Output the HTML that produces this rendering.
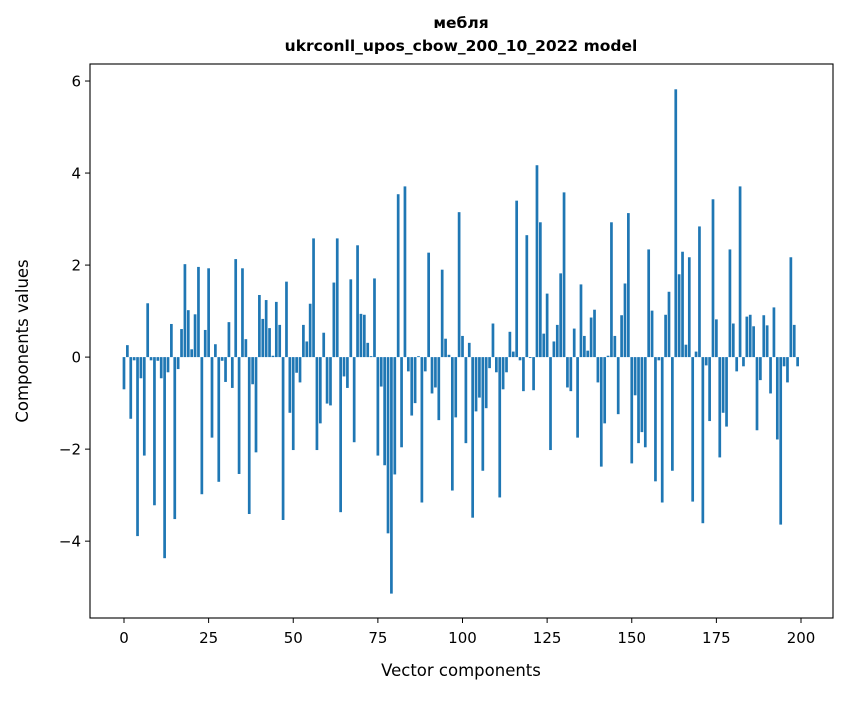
<!DOCTYPE html>
<html><head><meta charset="utf-8"><style>
body{margin:0;background:#fff;}
svg text{font-family:"DejaVu Sans","Liberation Sans",sans-serif;fill:#000;}
</style></head><body>
<svg id="chart" width="847" height="696" xmlns="http://www.w3.org/2000/svg">
<rect width="847" height="696" fill="#fff"/>
<text x="461" y="28" text-anchor="middle" font-size="15.5" font-weight="bold">мебля</text>
<text x="461" y="51" text-anchor="middle" font-size="15.5" font-weight="bold">ukrconll_upos_cbow_200_10_2022 model</text>
<g id="bars"></g>
<g id="axes"></g>
<text x="461" y="676" text-anchor="middle" font-size="16.5">Vector components</text>
<text transform="translate(28,341) rotate(-90)" text-anchor="middle" font-size="16.5">Components values</text>
</svg>
<script>
const values = [-0.70,0.26,-1.34,-0.07,-3.89,-0.46,-2.14,1.17,-0.07,-3.22,
-0.08,-0.46,-4.37,-0.33,0.72,-3.52,-0.26,0.61,2.02,1.02,
0.17,0.93,1.96,-2.98,0.59,1.93,-1.75,0.28,-2.71,-0.08,
-0.54,0.76,-0.67,2.13,-2.54,1.93,0.39,-3.41,-0.59,-2.07,
1.35,0.83,1.24,0.63,0.03,1.20,0.70,-3.54,1.64,-1.21,
-2.02,-0.34,-0.55,0.70,0.34,1.16,2.58,-2.02,-1.44,0.53,
-1.01,-1.05,1.62,2.58,-3.37,-0.42,-0.67,1.69,-1.85,2.43,
0.94,0.92,0.31,0.02,1.71,-2.14,-0.64,-2.35,-3.83,-5.14,
-2.55,3.54,-1.96,3.71,-0.31,-1.27,-1.00,0.02,-3.16,-0.31,
2.27,-0.79,-0.66,-1.37,1.90,0.40,0.05,-2.90,-1.31,3.15,
0.46,-1.87,0.31,-3.49,-1.18,-0.88,-2.47,-1.11,-0.24,0.73,
-0.33,-3.05,-0.70,-0.33,0.55,0.12,3.40,-0.07,-0.74,2.65,
-0.02,-0.72,4.17,2.93,0.51,1.38,-2.02,0.34,0.70,1.82,
3.58,-0.66,-0.74,0.62,-1.75,1.58,0.46,0.14,0.86,1.03,
-0.55,-2.38,-1.44,0.03,2.93,0.46,-1.24,0.91,1.60,3.13,
-2.31,-0.83,-1.87,-1.63,-1.96,2.34,1.01,-2.70,-0.07,-3.16,
0.92,1.42,-2.47,5.82,1.80,2.29,0.27,2.17,-3.14,0.12,
2.84,-3.61,-0.18,-1.39,3.43,0.82,-2.18,-1.21,-1.51,2.34,
0.73,-0.31,3.71,-0.20,0.88,0.92,0.67,-1.59,-0.50,0.91,
0.69,-0.79,1.08,-1.79,-3.64,-0.20,-0.55,2.17,0.70,-0.20];
const xTicks = [0,25,50,75,100,125,150,175,200];
const yTicks = [-4,-2,0,2,4,6];
const L=90,R=833,T=64,B=618;
const xMin=-10.04,xMax=209.45,yMin=-5.67,yMax=6.37;
const NS="http://www.w3.org/2000/svg";
function sx(v){return L+(v-xMin)/(xMax-xMin)*(R-L);}
function sy(v){return B-(v-yMin)/(yMax-yMin)*(B-T);}
const bars=document.getElementById('bars');
const bw=sx(0.8)-sx(0);
values.forEach((v,i)=>{
  const r=document.createElementNS(NS,'rect');
  
  
  const y0=sy(Math.max(v,0)),y1=sy(Math.min(v,0));
  r.setAttribute('x',sx(i)-bw/2);r.setAttribute('y',y0);
  r.setAttribute('width',bw);r.setAttribute('height',Math.max(y1-y0,0.3));
  r.setAttribute('fill','#1f77b4');
  bars.appendChild(r);
});
const ax=document.getElementById('axes');
const frame=document.createElementNS(NS,'rect');


frame.setAttribute('x',L);frame.setAttribute('y',T);frame.setAttribute('width',R-L);frame.setAttribute('height',B-T);
frame.setAttribute('fill','none');frame.setAttribute('stroke','#000');frame.setAttribute('stroke-width','1.1');
ax.appendChild(frame);
xTicks.forEach(t=>{
  const l=document.createElementNS(NS,'line');
  
  
  l.setAttribute('x1',sx(t));l.setAttribute('x2',sx(t));l.setAttribute('y1',B);l.setAttribute('y2',B+5);l.setAttribute('stroke','#000');
  ax.appendChild(l);
  const tx=document.createElementNS(NS,'text');
  
  
  tx.setAttribute('x',sx(t));tx.setAttribute('y',B+25);tx.setAttribute('text-anchor','middle');tx.setAttribute('font-size','15');
  tx.textContent=t;ax.appendChild(tx);
});
yTicks.forEach(t=>{
  const l=document.createElementNS(NS,'line');
  
  
  l.setAttribute('x1',L-5);l.setAttribute('x2',L);l.setAttribute('y1',sy(t));l.setAttribute('y2',sy(t));l.setAttribute('stroke','#000');
  ax.appendChild(l);
  const tx=document.createElementNS(NS,'text');
  
  
  tx.setAttribute('x',L-9);tx.setAttribute('y',sy(t)+5.5);tx.setAttribute('text-anchor','end');tx.setAttribute('font-size','15');
  tx.textContent=t<0?'\u2212'+(-t):String(t);ax.appendChild(tx);
});
</script>
</body></html>
